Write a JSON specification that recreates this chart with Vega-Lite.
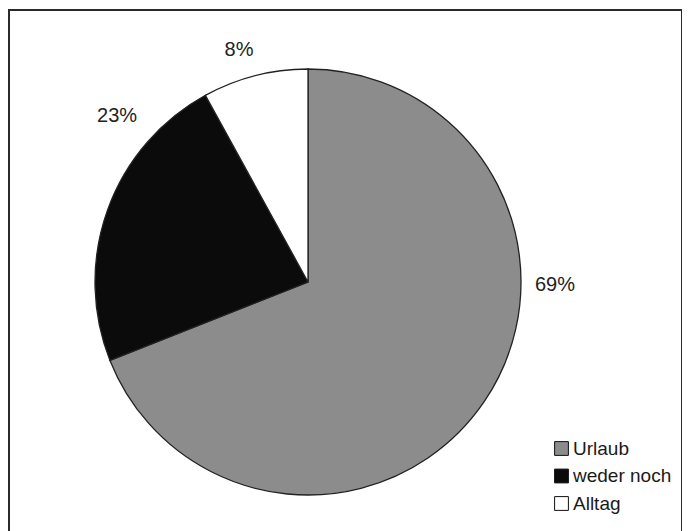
{
  "$schema": "https://vega.github.io/schema/vega-lite/v6.json",
  "width": 673,
  "height": 522,
  "autosize": "none",
  "padding": {"left": 9, "top": 10, "right": 0, "bottom": 0},
  "background": "white",
  "config": {
    "font": "Liberation Sans",
    "view": {"stroke": null}
  },
  "data": {
    "values": [
      {"Kategorie": "Urlaub", "Anteil": 0.69},
      {"Kategorie": "weder noch", "Anteil": 0.23},
      {"Kategorie": "Alltag", "Anteil": 0.08}
    ]
  },
  "layer": [
    {
      "data": {"values": [{"Rahmen": "Diagrammfläche"}]},
      "mark": {"type": "rect", "fill": null, "stroke": "#2b2b2b", "strokeWidth": 2},
      "encoding": {}
    },
    {
      "mark": {"type": "arc", "x": 299, "y": 272, "outerRadius": 213, "stroke": "#222222", "strokeWidth": 1.3},
      "encoding": {
        "theta": {"field": "Anteil", "type": "quantitative", "stack": true},
        "order": {"field": "Anteil", "sort": "descending"},
        "color": {
          "field": "Kategorie",
          "type": "nominal",
          "scale": {"domain": ["Urlaub", "weder noch", "Alltag"], "range": ["#8c8c8c", "#0b0b0b", "#ffffff"]},
          "legend": {
            "title": null,
            "orient": "none",
            "legendX": 543,
            "legendY": 429,
            "symbolType": "square",
            "symbolSize": 190,
            "symbolStrokeColor": "#111111",
            "symbolStrokeWidth": 1,
            "labelFont": "Liberation Sans",
            "labelFontSize": 19,
            "labelColor": "#1a1a1a",
            "labelOffset": 2,
            "rowPadding": 7.5
          }
        }
      }
    },
    {
      "mark": {"type": "text", "x": 299, "y": 272, "radius": 247, "thetaOffset": -0.585, "fontSize": 20, "fill": "#222222", "align": "center", "baseline": "middle"},
      "encoding": {
        "theta": {"field": "Anteil", "type": "quantitative", "stack": true},
        "order": {"field": "Anteil", "sort": "descending"},
        "detail": {"field": "Kategorie"},
        "text": {"condition": {"test": "datum.Kategorie === 'Urlaub'", "field": "Anteil", "type": "quantitative", "format": ".0%"}, "value": ""}
      }
    },
    {
      "mark": {"type": "text", "x": 299, "y": 272, "radius": 253, "thetaOffset": 0.37, "fontSize": 20, "fill": "#222222", "align": "center", "baseline": "middle"},
      "encoding": {
        "theta": {"field": "Anteil", "type": "quantitative", "stack": true},
        "order": {"field": "Anteil", "sort": "descending"},
        "detail": {"field": "Kategorie"},
        "text": {"condition": {"test": "datum.Kategorie === 'weder noch'", "field": "Anteil", "type": "quantitative", "format": ".0%"}, "value": ""}
      }
    },
    {
      "mark": {"type": "text", "x": 299, "y": 272, "radius": 242, "thetaOffset": -0.038, "fontSize": 20, "fill": "#222222", "align": "center", "baseline": "middle"},
      "encoding": {
        "theta": {"field": "Anteil", "type": "quantitative", "stack": true},
        "order": {"field": "Anteil", "sort": "descending"},
        "detail": {"field": "Kategorie"},
        "text": {"condition": {"test": "datum.Kategorie === 'Alltag'", "field": "Anteil", "type": "quantitative", "format": ".0%"}, "value": ""}
      }
    }
  ]
}
